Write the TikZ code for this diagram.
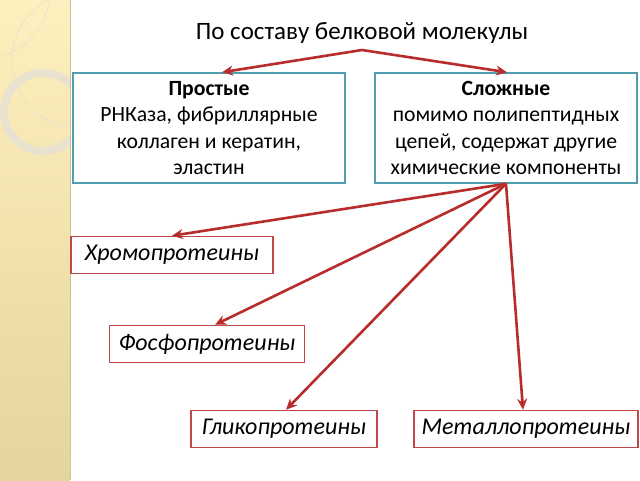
\documentclass[tikz,border=0pt]{standalone}
\usepackage{fontspec}
\setmainfont{Carlito}
\usetikzlibrary{arrows.meta}
\definecolor{arr}{RGB}{184,44,44}
\definecolor{teal}{RGB}{80,158,175}
\definecolor{rbox}{RGB}{192,72,72}
\definecolor{stripT}{RGB}{254,240,190}
\definecolor{stripB}{RGB}{228,212,158}
\definecolor{ring}{RGB}{232,226,206}
\begin{document}
\begin{tikzpicture}[x=1pt,y=-1pt,
  tealbox/.style={draw=teal,line width=1.5pt,fill=white,align=center,inner sep=0pt,
     font=\fontsize{21.7}{26.5}\selectfont},
  redbox/.style={draw=rbox,line width=1.5pt,fill=white,inner sep=0pt,
     font=\fontsize{24}{28}\selectfont\itshape},
  arrowline/.style={draw=arr,line width=2.6pt,-{Stealth[length=11pt,width=10pt]}}]
\useasboundingbox (0,0) rectangle (640,480);
\fill[white] (0,0) rectangle (640,480);
% left strip
\shade[top color=stripT,bottom color=stripB] (0,0) rectangle (70,480);
\begin{scope}
\clip (0,0) rectangle (70,480);
\draw[ring,line width=8pt] (43,112) circle (39);
\draw[ring,line width=0.8pt] (80,60) circle (68);
\draw[ring,line width=0.8pt] (-20,-10) circle (70);
\end{scope}
\draw[stripB!80!gray,line width=1pt] (70,0) -- (70,480);
% nodes
\node[font=\fontsize{25}{28}\selectfont] (title) at (362,33) {По составу белковой молекулы};
\node[tealbox,minimum width=272,minimum height=110] (simple) at (209,128)
  {\textbf{Простые}\\РНКаза, фибриллярные\\коллаген и кератин,\\эластин};
\node[tealbox,minimum width=262,minimum height=110] (complex) at (506,128)
  {\textbf{Сложные}\\помимо полипептидных\\цепей, содержат другие\\химические компоненты};
\node[redbox,minimum width=202,minimum height=37] (chromo) at (172,255) {Хромопротеины};
\node[redbox,minimum width=195,minimum height=37] (phospho) at (207,344) {Фосфопротеины};
\node[redbox,minimum width=186,minimum height=37] (glyco) at (284,429) {Гликопротеины};
\node[redbox,minimum width=224,minimum height=37] (metallo) at (526,429) {Металлопротеины};
% connectors
\coordinate (top) at (362,50);
\draw[arrowline] (top) -- ([xshift=13]simple.north);
\draw[arrowline] (top) -- ([xshift=1]complex.north);
\draw[arrowline] (complex.south) -- (chromo.north);
\draw[arrowline] (complex.south) -- ([xshift=8]phospho.north);
\draw[arrowline] (complex.south) -- ([xshift=2]glyco.north);
\draw[arrowline] (complex.south) -- ([xshift=-3]metallo.north);
\end{tikzpicture}
\end{document}
